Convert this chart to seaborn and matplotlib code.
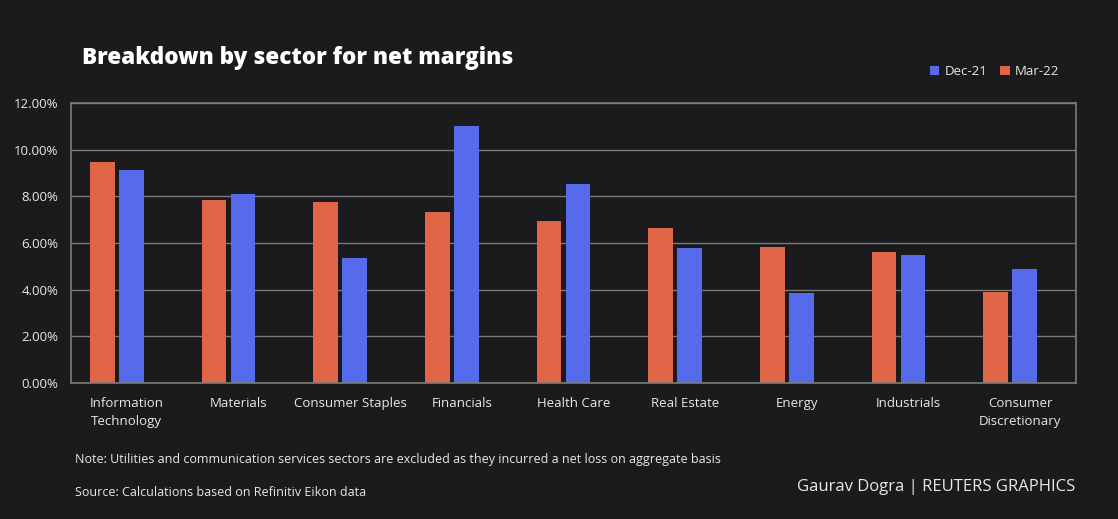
import numpy as np
import pandas as pd
import matplotlib
matplotlib.use("Agg")
import matplotlib.pyplot as plt
import matplotlib.ticker as mtick
from matplotlib.patches import Patch
import seaborn as sns

# ── data ──────────────────────────────────────────────────────────────────────
sectors = [
    "Information\nTechnology", "Materials", "Consumer Staples", "Financials",
    "Health Care", "Real Estate", "Energy", "Industrials", "Consumer\nDiscretionary",
]
mar22 = [9.46, 7.85, 7.75, 7.33, 6.94, 6.65, 5.84, 5.62, 3.92]
dec21 = [9.13, 8.12, 5.35, 11.00, 8.55, 5.78, 3.86, 5.47, 4.87]
y_ticks = [0, 2, 4, 6, 8, 10, 12]

BG = "#1b1b1d"
ORANGE = "#e06446"
BLUE = "#566beb"
GRID = "#7a7a7a"
TEXT = "#e8e8e8"

df = pd.DataFrame({
    "sector": sectors * 2,
    "series": ["Mar-22"] * len(sectors) + ["Dec-21"] * len(sectors),
    "value": mar22 + dec21,
})

sns.set_theme(style="dark")
plt.rcParams["font.family"] = ["Open Sans", "DejaVu Sans"]

fig = plt.figure(figsize=(11.18, 5.19), dpi=100, facecolor=BG)
ax = fig.add_axes([0.0635, 0.262, 0.899, 0.5395], facecolor=BG)

sns.barplot(
    data=df, x="sector", y="value", hue="series",
    hue_order=["Mar-22", "Dec-21"],
    palette={"Mar-22": ORANGE, "Dec-21": BLUE},
    width=0.52, gap=0.15, saturation=1, legend=False, ax=ax,
    edgecolor="none", linewidth=0,
)

# bars sit slightly left of the category centres (as in the original)
shift = 0.09
ax.set_xlim(-0.5 + shift, len(sectors) - 0.5 + shift)
ax.set_xticks(np.arange(len(sectors)) + shift)
ax.set_xticklabels(sectors, color=TEXT, fontsize=9.5, linespacing=1.5)
ax.tick_params(axis="x", length=0, pad=10)

ax.set_ylim(0, 12)
ax.set_yticks(y_ticks)
ax.yaxis.set_major_formatter(mtick.FormatStrFormatter("%.2f%%"))
ax.tick_params(axis="y", length=0, pad=9, labelcolor=TEXT, labelsize=9.5)
ax.set_xlabel("")
ax.set_ylabel("")

ax.grid(axis="y", color=GRID, linewidth=1)
ax.grid(axis="x", visible=False)
ax.set_axisbelow(True)
for side in ["top", "bottom", "left", "right"]:
    ax.spines[side].set_visible(True)
    ax.spines[side].set_color(GRID)
    ax.spines[side].set_linewidth(1.2)

# title and legend
fig.text(0.073, 0.888, "Breakdown by sector for net margins", color="white",
         fontsize=16.2, fontweight="heavy", va="center", ha="left")
handles = [Patch(facecolor=BLUE, edgecolor="none", label="Dec-21"),
           Patch(facecolor=ORANGE, edgecolor="none", label="Mar-22")]
fig.legend(handles=handles, loc="center right", bbox_to_anchor=(0.958, 0.862),
           ncol=2, frameon=False, fontsize=9.5, labelcolor=TEXT,
           handlelength=0.7, handleheight=0.7, handletextpad=0.4, columnspacing=1.0)

# footer
fig.text(0.067, 0.115, "Note: Utilities and communication services sectors are excluded "
         "as they incurred a net loss on aggregate basis",
         color=TEXT, fontsize=9, va="center", ha="left")
fig.text(0.067, 0.052, "Source: Calculations based on Refinitiv Eikon data",
         color=TEXT, fontsize=9, va="center", ha="left")
fig.text(0.962, 0.062, "Gaurav Dogra | REUTERS GRAPHICS", color=TEXT,
         fontsize=12, va="center", ha="right")

fig.savefig("out.png", dpi=100, facecolor=BG)
